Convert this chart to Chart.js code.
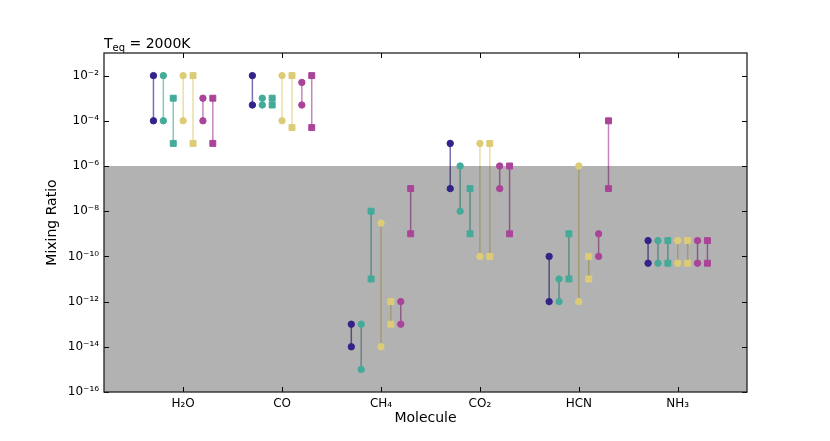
<!DOCTYPE html>
<html><head><meta charset="utf-8">
<script src="https://cdn.jsdelivr.net/npm/chart.js@4.4.1/dist/chart.umd.min.js"></script>
<style>html,body{margin:0;padding:0;background:#fff;} #wrap{width:830px;height:441px;}</style>
</head><body><div id="wrap"><canvas id="c" width="830" height="441"></canvas></div>
<script>
// ---- data ----
const molecules = ['H₂O', 'CO', 'CH₄', 'CO₂', 'HCN', 'NH₃'];
const yTickExponents = [-2, -4, -6, -8, -10, -12, -14, -16];
const shadeBelow = 1e-6;
const titleMain = 'T', titleSub = 'eq', titleRest = ' = 2000K';
const xTitle = 'Molecule', yTitle = 'Mixing Ratio';

const indigoCircleHigh = [1e-2, 1e-2, 1e-13, 1e-5, 1e-10, 5e-10];
const indigoCircleLow  = [1e-4, 5e-4, 1e-14, 1e-7, 1e-12, 5e-11];
const tealCircleHigh   = [1e-2, 1e-3, 1e-13, 1e-6, 1e-11, 5e-10];
const tealCircleLow    = [1e-4, 5e-4, 1e-15, 1e-8, 1e-12, 5e-11];
const tealSquareHigh   = [1e-3, 1e-3, 1e-8, 1e-7, 1e-9, 5e-10];
const tealSquareLow    = [1e-5, 5e-4, 1e-11, 1e-9, 1e-11, 5e-11];
const sandCircleHigh   = [1e-2, 1e-2, 3e-9, 1e-5, 1e-6, 5e-10];
const sandCircleLow    = [1e-4, 1e-4, 1e-14, 1e-10, 1e-12, 5e-11];
const sandSquareHigh   = [1e-2, 1e-2, 1e-12, 1e-5, 1e-10, 5e-10];
const sandSquareLow    = [1e-5, 5e-5, 1e-13, 1e-10, 1e-11, 5e-11];
const purpleCircleHigh = [1e-3, 5e-3, 1e-12, 1e-6, 1e-9, 5e-10];
const purpleCircleLow  = [1e-4, 5e-4, 1e-13, 1e-7, 1e-10, 5e-11];
const purpleSquareHigh = [1e-3, 1e-2, 1e-7, 1e-6, 1e-4, 5e-10];
const purpleSquareLow  = [1e-5, 5e-5, 1e-9, 1e-9, 1e-7, 5e-11];

// ---- styling ----
const series = [
  {hi: indigoCircleHigh, lo: indigoCircleLow, rgb: '51,34,136',  shape: 'circle'},
  {hi: tealCircleHigh,   lo: tealCircleLow,   rgb: '68,170,153', shape: 'circle'},
  {hi: tealSquareHigh,   lo: tealSquareLow,   rgb: '68,170,153', shape: 'rect'},
  {hi: sandCircleHigh,   lo: sandCircleLow,   rgb: '221,204,119', shape: 'circle'},
  {hi: sandSquareHigh,   lo: sandSquareLow,   rgb: '221,204,119', shape: 'rect'},
  {hi: purpleCircleHigh, lo: purpleCircleLow, rgb: '170,68,153', shape: 'circle'},
  {hi: purpleSquareHigh, lo: purpleSquareLow, rgb: '170,68,153', shape: 'rect'}
];
const FONT = "'DejaVu Sans', sans-serif";
const sup = {'-':'⁻','0':'⁰','1':'¹','2':'²','3':'³','4':'⁴','5':'⁵','6':'⁶','7':'⁷','8':'⁸','9':'⁹'};

const datasets = [];
series.forEach((s, k) => {
  const off = (k - 3) * 0.1;
  const lineData = [];
  const ptData = [];
  molecules.forEach((m, i) => {
    lineData.push({x: i + off, y: s.hi[i]}, {x: i + off, y: s.lo[i]}, {x: i + off, y: null});
    ptData.push({x: i + off, y: s.hi[i]}, {x: i + off, y: s.lo[i]});
  });
  datasets.push({
    type: 'line', data: lineData, order: 2, isLine: true,
    borderColor: 'rgba(' + s.rgb + ',0.65)', borderWidth: 1.5,
    pointRadius: 0, spanGaps: false, fill: false
  });
  datasets.push({
    type: 'scatter', data: ptData, order: 1,
    pointStyle: s.shape, pointRadius: s.shape === 'rect' ? 4.2 : 3.2,
    pointBackgroundColor: 'rgb(' + s.rgb + ')', pointBorderColor: 'rgb(' + s.rgb + ')',
    pointBorderWidth: 1, showLine: false
  });
});

let shadeDone = false;
const framePlugin = {
  id: 'frame',
  beforeDatasetsDraw(chart) { shadeDone = false; },
  beforeDatasetDraw(chart, args) {
    const ds = chart.data.datasets[args.index];
    if (!shadeDone && !ds.isLine) {
      shadeDone = true;
      const {ctx, chartArea: a, scales: {y}} = chart;
      const top = y.getPixelForValue(shadeBelow);
      ctx.save();
      ctx.fillStyle = 'rgba(0,0,0,0.3)';
      ctx.fillRect(a.left, top, a.right - a.left, a.bottom - top);
      ctx.restore();
    }
  },
  afterDraw(chart) {
    const {ctx, chartArea: a, scales: {x, y}} = chart;
    ctx.save();
    ctx.strokeStyle = '#000';
    ctx.lineWidth = 1;
    const tl = 5;
    molecules.forEach((m, i) => {
      const px = Math.round(x.getPixelForValue(i)) + 0.5;
      ctx.beginPath();
      ctx.moveTo(px, a.bottom); ctx.lineTo(px, a.bottom - tl);
      ctx.moveTo(px, a.top); ctx.lineTo(px, a.top + tl);
      ctx.stroke();
    });
    yTickExponents.forEach(e => {
      const py = Math.round(y.getPixelForValue(Number('1e' + e))) + 0.5;
      ctx.beginPath();
      ctx.moveTo(a.left, py); ctx.lineTo(a.left + tl, py);
      ctx.moveTo(a.right, py); ctx.lineTo(a.right - tl, py);
      ctx.stroke();
    });
    ctx.strokeStyle = '#222';
    ctx.lineWidth = 1.3;
    ctx.strokeRect(a.left, a.top, a.right - a.left, a.bottom - a.top);
    // title with subscript
    ctx.fillStyle = '#000';
    ctx.textBaseline = 'alphabetic';
    ctx.textAlign = 'left';
    let tx = a.left;
    const by = 47.5;
    ctx.font = '14px ' + FONT;
    ctx.fillText(titleMain, tx, by);
    tx += ctx.measureText(titleMain).width;
    ctx.font = '10px ' + FONT;
    ctx.fillText(titleSub, tx, by + 3);
    tx += ctx.measureText(titleSub).width;
    ctx.font = '14px ' + FONT;
    ctx.fillText(titleRest, tx, by);
    ctx.restore();
  }
};

new Chart(document.getElementById('c'), {
  data: {datasets},
  options: {
    responsive: false,
    animation: false,
    events: [],
    layout: {padding: {top: 53, right: 83, left: 0, bottom: 0}},
    plugins: {legend: {display: false}, tooltip: {enabled: false}, title: {display: false}},
    scales: {
      x: {
        type: 'linear', min: -0.8, max: 5.7,
        grid: {display: false, drawTicks: false}, border: {display: false},
        afterBuildTicks: s => { s.ticks = molecules.map((m, i) => ({value: i})); },
        afterFit: s => { s.height = 49; },
        ticks: {
          padding: 5, color: '#000', font: {family: FONT, size: 12}, maxRotation: 0, autoSkip: false,
          callback: (v) => molecules[Math.round(v)]
        },
        title: {display: true, text: xTitle, color: '#000', font: {family: FONT, size: 14}, padding: {top: 0, bottom: 14}}
      },
      y: {
        type: 'logarithmic', min: 1e-16, max: 1e-1,
        grid: {display: false, drawTicks: false}, border: {display: false},
        afterBuildTicks: s => { s.ticks = yTickExponents.map(e => ({value: Number('1e' + e)})); },
        afterFit: s => { s.width = 104; },
        ticks: {
          padding: 5, color: '#000', font: {family: FONT, size: 12}, autoSkip: false,
          callback: (v) => {
            const e = String(Math.round(Math.log10(v)));
            return '10' + e.split('').map(c => sup[c]).join('');
          }
        },
        title: {display: true, text: yTitle, color: '#000', font: {family: FONT, size: 14}, padding: {top: 44, bottom: 0}}
      }
    }
  },
  plugins: [framePlugin]
});
</script>
</body></html>
